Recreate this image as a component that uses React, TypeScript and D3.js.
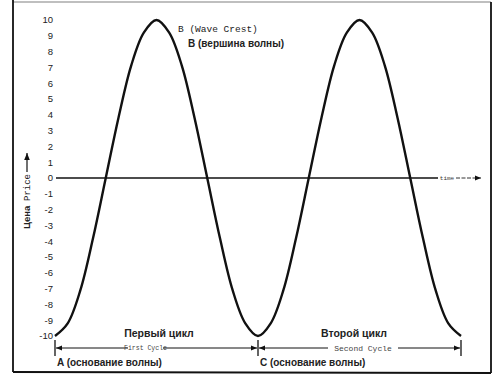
import React from "react";
import * as d3 from "d3";

const priceValues = [
  -10, -9.2, -7.1, -3.8, 0, 3.8, 7.1, 9.2, 10, 9.2, 7.1, 3.8, 0, -3.8, -7.1, -9.2,
  -10, -9.2, -7.1, -3.8, 0, 3.8, 7.1, 9.2, 10, 9.2, 7.1, 3.8, 0, -3.8, -7.1, -9.2, -10,
];
const yTicks = [10, 9, 8, 7, 6, 5, 4, 3, 2, 1, 0, -1, -2, -3, -4, -5, -6, -7, -8, -9, -10];
const cycleBounds = [0, 16, 32];
const cycleRu = ["Первый цикл", "Второй цикл"];
const cycleEn = ["First Cycle", "Second Cycle"];
const baseLabels = ["A (основание волны)", "C (основание волны)"];
const crestEn = "B (Wave Crest)";
const crestRu = "B (вершина волны)";

const W = 493;
const H = 386;

export default function App() {
  const x = d3.scaleLinear().domain([0, 32]).range([55, 461]);
  const y = d3.scaleLinear().domain([-10, 10]).range([336, 20]);
  const line = d3
    .line<number>()
    .x((_, i) => x(i))
    .y((d) => y(d))
    .curve(d3.curveCatmullRom.alpha(0.5));
  const path = line(priceValues) || "";

  const sans = "'Liberation Sans', Arial, sans-serif";
  const mono = "'Liberation Mono', 'DejaVu Sans Mono', monospace";
  const lineY = 348;

  const ruX = [159, 354];
  const enStart = [129, 329];
  const enEnd = [162, 397];

  return (
    <div style={{ position: "absolute", left: 0, top: 0 }}>
      <svg width={W} height={H} style={{ display: "block", background: "#fff" }}>
        <defs>
          <marker id="ah" viewBox="0 0 10 10" refX="10" refY="5" markerWidth="6" markerHeight="6" orient="auto-start-reverse">
            <path d="M0,1 L10,5 L0,9 z" fill="#111" />
          </marker>
        </defs>
        {/* frame */}
        <line x1={13} y1={2} x2={491} y2={2} stroke="#aaa" strokeWidth={1.5} />
        <line x1={13} y1={0} x2={13} y2={372} stroke="#111" strokeWidth={1.8} />
        <line x1={13} y1={372} x2={491} y2={373} stroke="#111" strokeWidth={1.8} />
        <line x1={491} y1={2} x2={491} y2={373} stroke="#111" strokeWidth={1.8} />

        {/* y tick labels */}
        {yTicks.map((t) => (
          <text key={t} x={53} y={y(t)} dy="0.35em" textAnchor="end" fontFamily={sans} fontSize={9.5} fill="#222">
            {t < 0 ? "-" + Math.abs(t) : String(t)}
          </text>
        ))}

        {/* zero / time axis */}
        <line x1={56} y1={y(0)} x2={438} y2={y(0)} stroke="#111" strokeWidth={1.3} />
        <text x={447} y={y(0)} dy="0.35em" textAnchor="middle" fontFamily={mono} fontSize={6} fill="#333">
          time
        </text>
        <line x1={456} y1={y(0)} x2={481} y2={y(0)} stroke="#333" strokeWidth={1} strokeDasharray="4 1.5" markerEnd="url(#ah)" />

        {/* y axis title */}
        <g transform={`translate(27, 229) rotate(-90)`}>
          <text x={0} y={0} dy="0.35em" fontFamily={sans} fontWeight="bold" fontSize={9.5} fill="#222">
            Цена
          </text>
          <text x={28} y={0} dy="0.35em" fontFamily={mono} fontSize={9} fill="#222">
            Price
          </text>
        </g>
        <line x1={27} y1={172} x2={27} y2={153} stroke="#111" strokeWidth={1.2} markerEnd="url(#ah)" />

        {/* wave */}
        <path d={path} fill="none" stroke="#111" strokeWidth={2.4} strokeLinejoin="round" />

        {/* crest labels */}
        <text x={178} y={29} dy="0.35em" fontFamily={mono} fontSize={9.5} fill="#222">
          {crestEn}
        </text>
        <text x={188} y={43} dy="0.35em" fontFamily={sans} fontWeight="bold" fontSize={10} fill="#222">
          {crestRu}
        </text>

        {/* cycle ticks */}
        {cycleBounds.map((b) => (
          <line key={b} x1={x(b)} y1={340} x2={x(b)} y2={356} stroke="#111" strokeWidth={1.3} />
        ))}

        {/* cycle measure lines and labels */}
        {[0, 1].map((i) => (
          <g key={i}>
            <line x1={x(cycleBounds[i]) + 1} y1={lineY} x2={enStart[i] - 1} y2={lineY} stroke="#111" strokeWidth={1} markerStart="url(#ah)" />
            <line x1={enEnd[i] + 1} y1={lineY} x2={x(cycleBounds[i + 1]) - 1} y2={lineY} stroke="#111" strokeWidth={1} markerEnd="url(#ah)" />
            <text x={(enStart[i] + enEnd[i]) / 2} y={lineY} dy="0.35em" textAnchor="middle" fontFamily={mono} fontSize={i === 0 ? 6.5 : 8} fill="#444">
              {cycleEn[i]}
            </text>
            <text x={ruX[i]} y={333} dy="0.35em" textAnchor="middle" fontFamily={sans} fontWeight="bold" fontSize={10.5} fill="#222">
              {cycleRu[i]}
            </text>
            <text x={x(cycleBounds[i]) + 2} y={362} dy="0.35em" fontFamily={sans} fontWeight="bold" fontSize={10} fill="#222">
              {baseLabels[i]}
            </text>
          </g>
        ))}
      </svg>
    </div>
  );
}
